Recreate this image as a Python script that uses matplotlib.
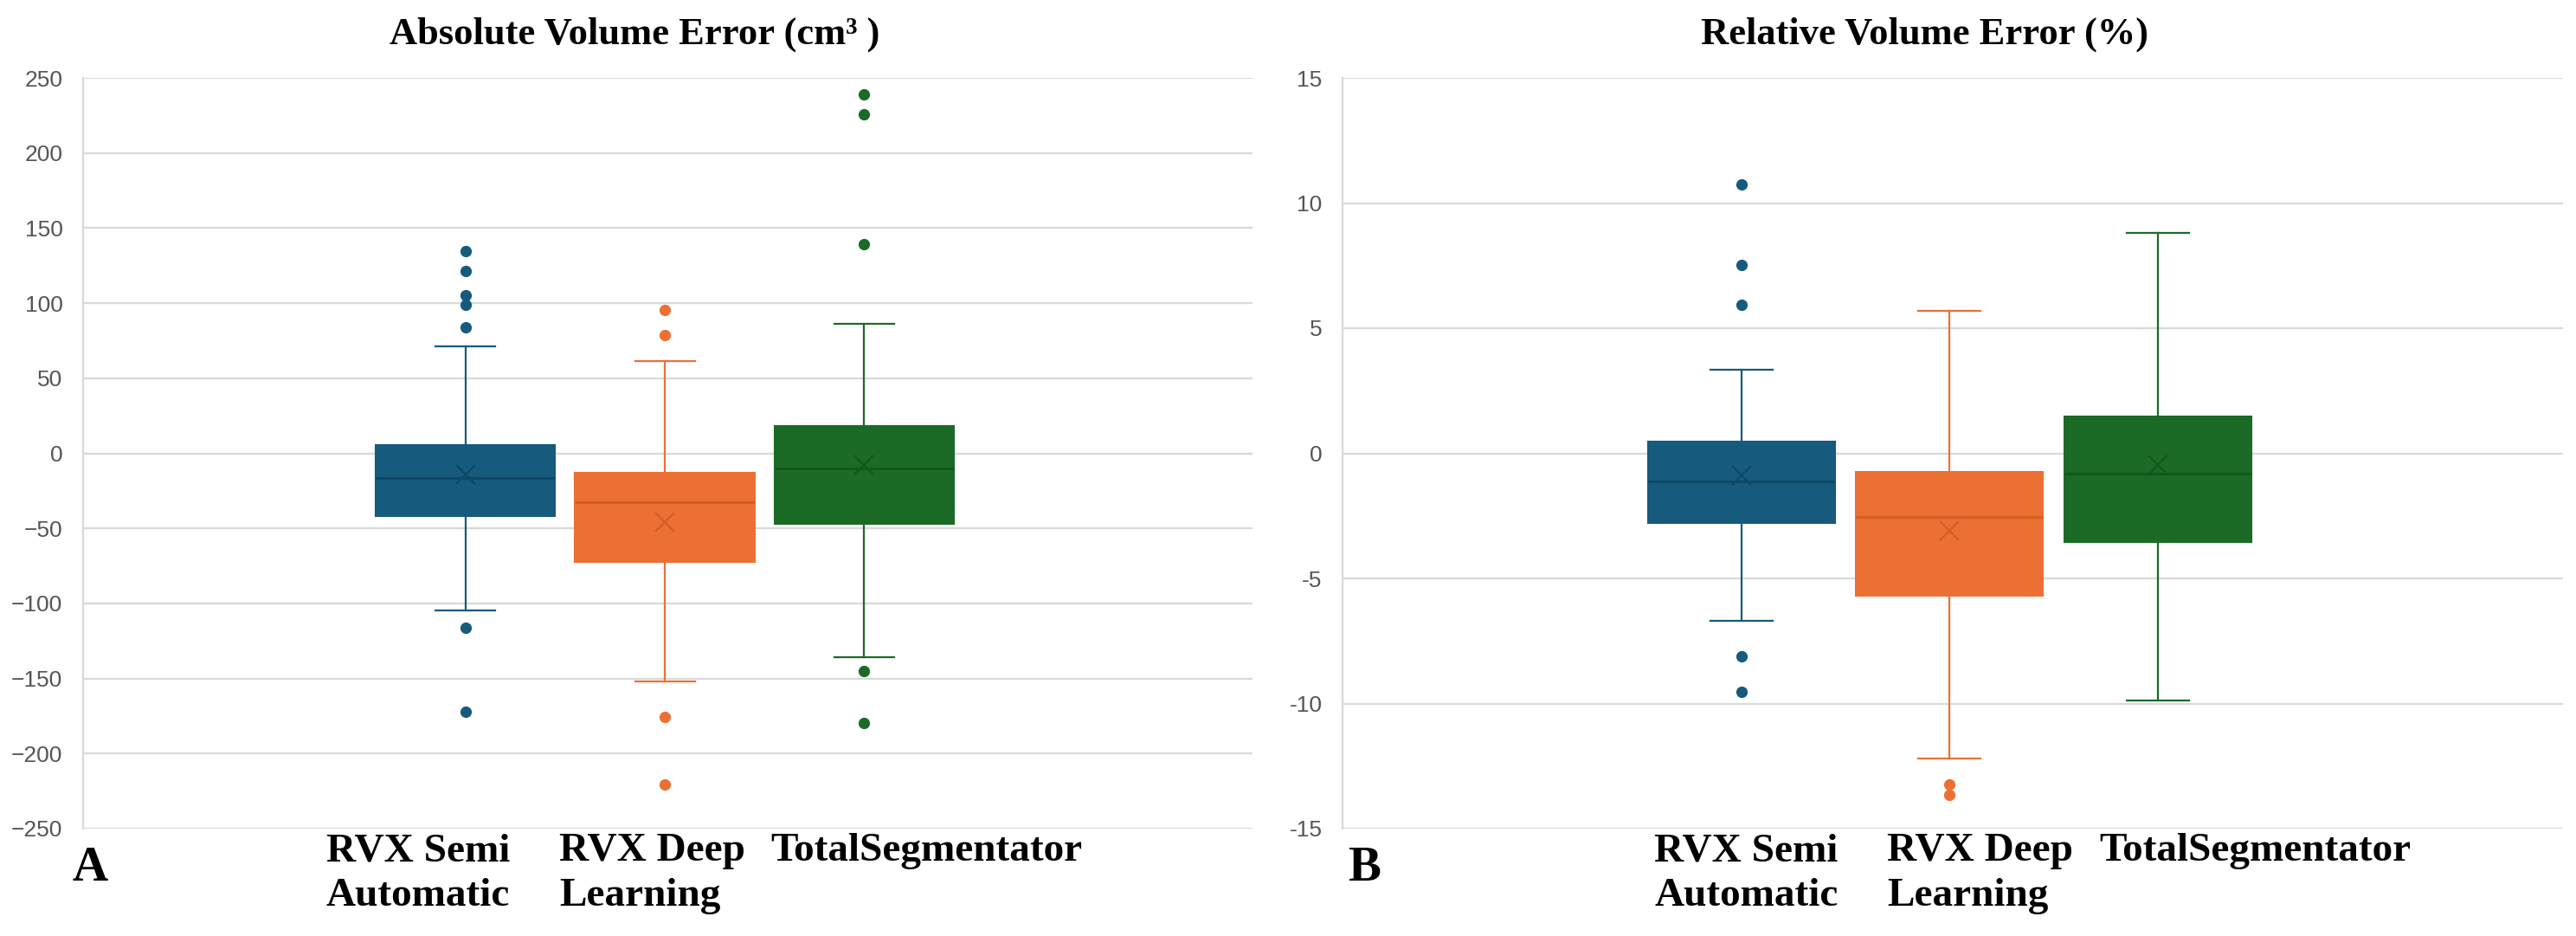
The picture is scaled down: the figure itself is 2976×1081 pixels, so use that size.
import matplotlib.pyplot as plt
from matplotlib.ticker import FuncFormatter
import matplotlib.transforms as mtransforms

methods = ["RVX Semi\nAutomatic", "RVX Deep\nLearning", "TotalSegmentator"]
colors = ["#165a7d", "#ec7034", "#1b6b27"]
dark = ["#0f4866", "#d25e26", "#14561e"]

# absolute volume error (cm3)
abs_whislo = [-104.5, -152.2, -136.0]
abs_q1 = [-42.0, -72.3, -46.9]
abs_med = [-16.7, -32.6, -9.9]
abs_mean = [-14.0, -45.7, -8.0]
abs_q3 = [5.2, -12.7, 17.9]
abs_whishi = [71.0, 61.6, 86.2]
abs_fliers = [[134.5, 121.6, 105.0, 99.0, 84.0, -116.0, -172.0],
              [95.4, 78.7, -175.7, -220.6],
              [238.9, 225.8, 139.5, -145.0, -179.6]]

# relative volume error (%)
rel_whislo = [-6.70, -12.19, -9.87]
rel_q1 = [-2.79, -5.68, -3.55]
rel_med = [-1.12, -2.53, -0.83]
rel_mean = [-0.88, -3.08, -0.45]
rel_q3 = [0.45, -0.76, 1.48]
rel_whishi = [3.34, 5.68, 8.82]
rel_fliers = [[10.73, 7.54, 5.94, -8.13, -9.52],
              [-13.24, -13.64],
              []]


def make_stats(lo, q1, med, mean, q3, hi, fl):
    out = []
    for i in range(len(lo)):
        out.append(dict(whislo=lo[i], q1=q1[i], med=med[i], mean=mean[i],
                        q3=q3[i], whishi=hi[i], fliers=fl[i]))
    return out


def draw_panel(ax, stats, title, title_x, ylim, yticks, label_x, fmt=None):
    bp = ax.bxp(stats, positions=range(len(stats)), widths=0.9, patch_artist=True,
                showmeans=True, showfliers=True, capwidths=0.3)
    for i in range(len(stats)):
        bp['boxes'][i].set(facecolor=colors[i], edgecolor=colors[i], linewidth=1.5, zorder=3)
        bp['medians'][i].set(color=dark[i], linewidth=2.2, zorder=4)
        bp['means'][i].set(marker='x', markeredgecolor=dark[i], markersize=16,
                           markeredgewidth=1.6, zorder=5)
        for w in bp['whiskers'][2 * i:2 * i + 2]:
            w.set(color=colors[i], linewidth=1.6, zorder=2)
        for c in bp['caps'][2 * i:2 * i + 2]:
            c.set(color=colors[i], linewidth=1.6, zorder=2)
        bp['fliers'][i].set(marker='o', markerfacecolor=colors[i], markeredgecolor=colors[i],
                            markersize=8.5, zorder=3)

    ax.set_xlim(-1.92, 3.95)
    ax.set_ylim(*ylim)
    ax.set_yticks(yticks)
    if fmt is not None:
        ax.yaxis.set_major_formatter(fmt)
    ax.yaxis.grid(True, color="#d9d9d9", linewidth=1.6, zorder=0)
    ax.set_axisbelow(True)
    for s in ['top', 'right', 'bottom']:
        ax.spines[s].set_visible(False)
    ax.spines['left'].set_color("#d9d9d9")
    ax.spines['left'].set_linewidth(1.6)
    ax.set_xticks([])
    ax.tick_params(axis='y', length=0, pad=17, labelsize=19, labelcolor="#555555")
    for lab in ax.get_yticklabels():
        lab.set_fontfamily('Liberation Sans')

    ax.text(title_x, 1.046, title, transform=ax.transAxes, ha='center', va='baseline',
            fontsize=32, fontweight='bold', family='Liberation Serif')

    trans = mtransforms.blended_transform_factory(ax.transData, ax.transAxes)
    for i, m in enumerate(methods):
        ax.text(label_x[i], -0.006, m, transform=trans, ha='left', va='top',
                fontsize=34, fontweight='bold', family='Liberation Serif', linespacing=1.3)


fig = plt.figure(figsize=(29.76, 10.81), dpi=100)
ax1 = fig.add_axes([96 / 2976, 1 - 957 / 1081, (1447 - 96) / 2976, 867 / 1081])
ax2 = fig.add_axes([1551 / 2976, 1 - 957 / 1081, (2961 - 1551) / 2976, 867 / 1081])

draw_panel(ax1, make_stats(abs_whislo, abs_q1, abs_med, abs_mean, abs_q3, abs_whishi, abs_fliers),
           "Absolute Volume Error (cm³ )", 0.472, (-250, 250), range(-250, 251, 50),
           [-0.70, 0.47, 1.53])
draw_panel(ax2, make_stats(rel_whislo, rel_q1, rel_med, rel_mean, rel_q3, rel_whishi, rel_fliers),
           "Relative Volume Error (%)", 0.477, (-15, 15), range(-15, 16, 5),
           [-0.42, 0.70, 1.72], FuncFormatter(lambda v, p: f"{v:g}"))

fig.text(84 / 2976, 1 - 1017 / 1081, 'A', ha='left', va='baseline', fontsize=41,
         fontweight='bold', family='Liberation Serif')
fig.text(1557 / 2976, 1 - 1017 / 1081, 'B', ha='left', va='baseline', fontsize=41,
         fontweight='bold', family='Liberation Serif')

fig.savefig("out.png", dpi=100, facecolor='white')
